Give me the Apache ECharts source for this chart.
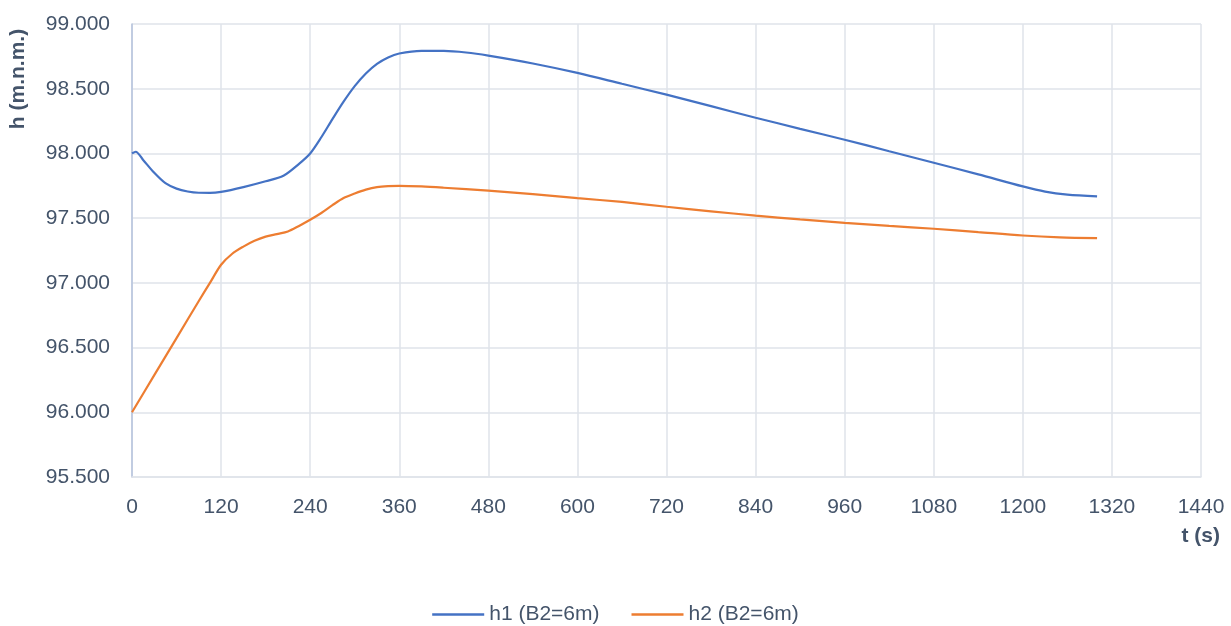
<!DOCTYPE html>
<html>
<head>
<meta charset="utf-8">
<script src="https://cdn.jsdelivr.net/npm/echarts@6/dist/echarts.min.js"></script>
<style>
html,body{margin:0;padding:0;background:#fff;}
#chart{width:1231px;height:626px;}
</style>
</head>
<body>
<div id="chart"></div>
<script>
const seriesNames = ['h1 (B2=6m)', 'h2 (B2=6m)'];
const h1Time = [0, 5, 15, 30, 45, 60, 75, 90, 105, 120, 150, 180, 204, 225, 240, 255, 270, 285, 300, 315, 330, 345, 360, 390, 420, 450, 480, 540, 600, 660, 720, 780, 840, 900, 960, 1020, 1080, 1140, 1200, 1230, 1260, 1300];
const h1Values = [98.000, 98.013, 97.950, 97.850, 97.770, 97.728, 97.706, 97.696, 97.695, 97.703, 97.740, 97.785, 97.828, 97.920, 98.000, 98.125, 98.265, 98.400, 98.520, 98.618, 98.692, 98.742, 98.772, 98.792, 98.792, 98.780, 98.756, 98.695, 98.622, 98.538, 98.454, 98.365, 98.276, 98.190, 98.106, 98.017, 97.928, 97.838, 97.745, 97.705, 97.682, 97.668];
const h2Time = [0, 30, 60, 90, 105, 120, 135, 150, 165, 180, 195, 210, 225, 240, 255, 270, 285, 300, 315, 330, 345, 360, 390, 420, 480, 540, 600, 660, 720, 780, 840, 900, 960, 1020, 1080, 1140, 1200, 1250, 1300];
const h2Values = [96.000, 96.287, 96.573, 96.860, 97.000, 97.140, 97.225, 97.280, 97.325, 97.357, 97.377, 97.397, 97.440, 97.487, 97.540, 97.600, 97.655, 97.690, 97.720, 97.740, 97.748, 97.750, 97.745, 97.735, 97.712, 97.685, 97.655, 97.625, 97.588, 97.553, 97.519, 97.490, 97.464, 97.440, 97.418, 97.392, 97.366, 97.352, 97.346];
const xTicks = {min: 0, max: 1440, interval: 120};
const yTicks = {min: 95.5, max: 99, interval: 0.5};
const yTitle = 'h (m.n.m.)';
const xTitle = 't (s)';

const pair = (xs, ys) => xs.map((x, i) => [x, ys[i]]);
const FONT = '"Liberation Sans", Arial, sans-serif';
const TXT = '#44546a';

const chart = echarts.init(document.getElementById('chart'), null, {renderer: 'canvas'});
chart.setOption({
  animation: false,
  backgroundColor: '#fff',
  grid: {left: 132, right: 30, top: 24, bottom: 149, containLabel: false},
  xAxis: {
    type: 'value', min: xTicks.min, max: xTicks.max, interval: xTicks.interval,
    axisLine: {show: true, lineStyle: {color: '#dfe3ea', width: 1.5}},
    axisTick: {show: false},
    splitLine: {show: true, lineStyle: {color: '#dfe3ea', width: 1.5}},
    axisLabel: {color: TXT, fontSize: 21, fontFamily: FONT, margin: 20,
      formatter: v => String(v)}
  },
  yAxis: {
    type: 'value', min: yTicks.min, max: yTicks.max, interval: yTicks.interval,
    axisLine: {show: true, lineStyle: {color: '#b4c2dc', width: 1.5}},
    axisTick: {show: false},
    splitLine: {show: true, lineStyle: {color: '#dfe3ea', width: 1.5}},
    axisLabel: {color: TXT, fontSize: 21, fontFamily: FONT, margin: 22,
      formatter: v => v.toFixed(3)}
  },
  legend: {
    top: 599, left: 'center',
    itemWidth: 52, itemHeight: 2.5, itemGap: 32, icon: 'rect',
    textStyle: {color: TXT, fontSize: 21, fontFamily: FONT},
    data: seriesNames
  },
  graphic: [
    {type: 'text', x: 18, y: 79, rotation: Math.PI / 2,
     style: {text: yTitle, fill: TXT, font: 'bold 21px ' + FONT, textAlign: 'center', textVerticalAlign: 'middle'}},
    {type: 'text', x: 1220, y: 536,
     style: {text: xTitle, fill: TXT, font: 'bold 21px ' + FONT, textAlign: 'right', textVerticalAlign: 'middle'}}
  ],
  series: [
    {name: seriesNames[0], type: 'line', data: pair(h1Time, h1Values), smooth: 0.3,
     symbol: 'none', itemStyle: {color: '#4472c4'}, lineStyle: {color: '#4472c4', width: 2.2}},
    {name: seriesNames[1], type: 'line', data: pair(h2Time, h2Values), smooth: 0.3,
     symbol: 'none', itemStyle: {color: '#ed7d31'}, lineStyle: {color: '#ed7d31', width: 2.2}}
  ]
});
</script>
</body>
</html>
